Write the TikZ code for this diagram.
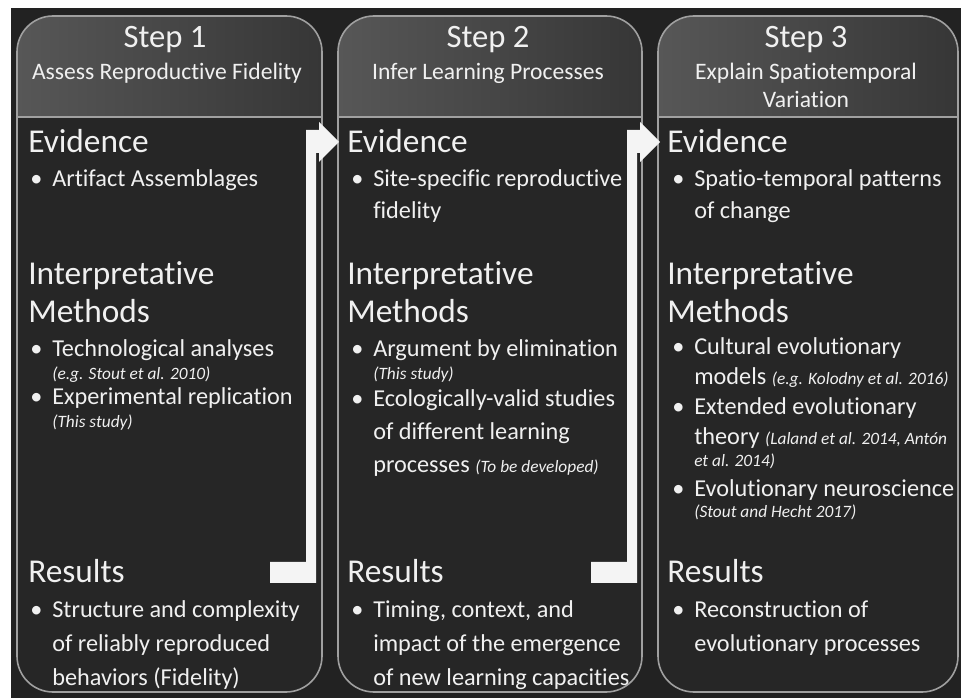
\documentclass[tikz,border=0pt]{standalone}
\usepackage{fontspec}
\setmainfont{Carlito}[Ligatures=NoCommon]
\usetikzlibrary{calc}
\definecolor{bgdark}{HTML}{222222}
\definecolor{bodydark}{HTML}{262626}
\definecolor{bordgray}{HTML}{A0A0A0}
\definecolor{hdrL}{HTML}{575757}
\definecolor{hdrR}{HTML}{363636}
\definecolor{txtw}{HTML}{F0F0F0}
\definecolor{arrw}{HTML}{F4F4F4}
\tikzset{
  panelbox/.style={draw=bordgray, line width=1.2pt, rounded corners=27pt},
  steptitle/.style={anchor=base, text=txtw, inner sep=0pt, font=\fontsize{24.5}{29}\selectfont},
  stepsub/.style={anchor=base, text=txtw, inner sep=0pt, font=\fontsize{17.7}{21}\selectfont},
  sechd/.style={anchor=base west, text=txtw, inner sep=0pt, font=\fontsize{25}{30}\selectfont},
  bultxt/.style={anchor=base west, text=txtw, inner sep=0pt, font=\fontsize{18.2}{22}\selectfont},
  bulmark/.style={anchor=base west, text=txtw, inner sep=0pt, font=\fontsize{18.2}{22}\selectfont},
  citetxt/.style={anchor=base west, text=txtw, inner sep=0pt, font=\fontsize{13}{15}\selectfont\itshape},
  bigarrow/.style={fill=arrw, draw=none}
}
\newcommand{\citesz}{\fontsize{13}{15}\selectfont\itshape}
\begin{document}
\begin{tikzpicture}[x=0.75pt,y=-0.75pt]
\useasboundingbox (0,0) rectangle (961,698);
\fill[white] (0,0) rectangle (961,698);
\fill[bgdark] (11,8) rectangle (961,698);
% panels
\foreach \L/\R in {17/322,338/642,658/958}{
  \begin{scope}
    \clip[rounded corners=27pt] (\L,16) rectangle (\R,692);
    \fill[bodydark] (\L,16) rectangle (\R,692);
    \shade[left color=hdrL,right color=hdrR] (\L,16) rectangle (\R,117);
  \end{scope}
  \draw[bordgray, line width=1.2pt] (\L,117) -- (\R,117);
}
\draw[panelbox] (17,16) rectangle (322,692);
\draw[panelbox] (338,16) rectangle (642,692);
\draw[panelbox] (658,16) rectangle (958,692);

% ---------- Panel 1 ----------
\node[steptitle] (s1t) at (165,48) {Step 1};
\node[stepsub] (s1s) at (167,80) {Assess Reproductive Fidelity};
\node[sechd] (e1) at (28,153) {Evidence};
\node[bulmark] (b1a) at (30,187) {•};
\node[bultxt] (t1a) at (52,187) {Artifact Assemblages};
\node[sechd] (m1a) at (28,285) {Interpretative};
\node[sechd] (m1b) at (28,323) {Methods};
\node[bulmark] (b1b) at (30,357) {•};
\node[bultxt] (t1b) at (52,357) {Technological analyses};
\node[citetxt] (c1b) at (52,380) {(e.g. Stout et al. 2010)};
\node[bulmark] (b1c) at (30,405) {•};
\node[bultxt] (t1c) at (52,405) {Experimental replication};
\node[citetxt] (c1c) at (52,428) {(This study)};
\node[sechd] (r1) at (28,583) {Results};
\node[bulmark] (b1d) at (30,617) {•};
\node[bultxt] (t1d) at (52,617) {Structure and complexity};
\node[bultxt] (t1e) at (52,651) {of reliably reproduced};
\node[bultxt] (t1f) at (52,685) {behaviors (Fidelity)};

% ---------- Panel 2 ----------
\node[steptitle] (s2t) at (488,48) {Step 2};
\node[stepsub] (s2s) at (488,80) {Infer Learning Processes};
\node[sechd] (e2) at (347,153) {Evidence};
\node[bulmark] (b2a) at (351,187) {•};
\node[bultxt] (t2a) at (373,187) {Site-specific reproductive};
\node[bultxt] (t2a2) at (373,219) {fidelity};
\node[sechd] (m2a) at (347,285) {Interpretative};
\node[sechd] (m2b) at (347,323) {Methods};
\node[bulmark] (b2b) at (351,357) {•};
\node[bultxt] (t2b) at (373,357) {Argument by elimination};
\node[citetxt] (c2b) at (373,380) {(This study)};
\node[bulmark] (b2c) at (351,407) {•};
\node[bultxt] (t2c) at (373,407) {Ecologically-valid studies};
\node[bultxt] (t2c2) at (373,440) {of different learning};
\node[bultxt] (t2c3) at (373,473) {processes {\citesz (To be developed)}};
\node[sechd] (r2) at (347,583) {Results};
\node[bulmark] (b2d) at (351,617) {•};
\node[bultxt] (t2d) at (373,617) {Timing, context, and};
\node[bultxt] (t2e) at (373,651) {impact of the emergence};
\node[bultxt] (t2f) at (373,685) {of new learning capacities};

% ---------- Panel 3 ----------
\node[steptitle] (s3t) at (806,48) {Step 3};
\node[stepsub] (s3s) at (806,80) {Explain Spatiotemporal};
\node[stepsub] (s3s2) at (806,108) {Variation};
\node[sechd] (e3) at (667,153) {Evidence};
\node[bulmark] (b3a) at (672,187) {•};
\node[bultxt] (t3a) at (694,187) {Spatio-temporal patterns};
\node[bultxt] (t3a2) at (694,219) {of change};
\node[sechd] (m3a) at (667,285) {Interpretative};
\node[sechd] (m3b) at (667,323) {Methods};
\node[bulmark] (b3b) at (672,355) {•};
\node[bultxt] (t3b) at (694,355) {Cultural evolutionary};
\node[bultxt] (t3b2) at (694,385) {models {\citesz (e.g. Kolodny et al. 2016)}};
\node[bulmark] (b3c) at (672,415) {•};
\node[bultxt] (t3c) at (694,415) {Extended evolutionary};
\node[bultxt] (t3c2) at (694,445) {theory {\citesz (Laland et al. 2014, Antón}};
\node[citetxt] (c3c) at (694,467) {et al. 2014)};
\node[bulmark] (b3d) at (672,497) {•};
\node[bultxt] (t3d) at (694,497) {Evolutionary neuroscience};
\node[citetxt] (c3d) at (694,518) {(Stout and Hecht 2017)};
\node[sechd] (r3) at (667,583) {Results};
\node[bulmark] (b3e) at (672,617) {•};
\node[bultxt] (t3e) at (694,617) {Reconstruction of};
\node[bultxt] (t3f) at (694,651) {evolutionary processes};

% ---------- Arrows ----------
\coordinate (a1tip) at (339,142);
\coordinate (a2tip) at (660,142);
\fill[bigarrow] (270,583) -- (316,583) -- (316,153) -- (319,153) -- (319,162)
  -- (a1tip) -- (319,122) -- (319,130) -- (306,130) -- (306,562) -- (270,562) -- cycle;
\fill[bigarrow] (591,583) -- (637,583) -- (637,153) -- (640,153) -- (640,162)
  -- (a2tip) -- (640,122) -- (640,130) -- (627,130) -- (627,562) -- (591,562) -- cycle;
\end{tikzpicture}
\end{document}
